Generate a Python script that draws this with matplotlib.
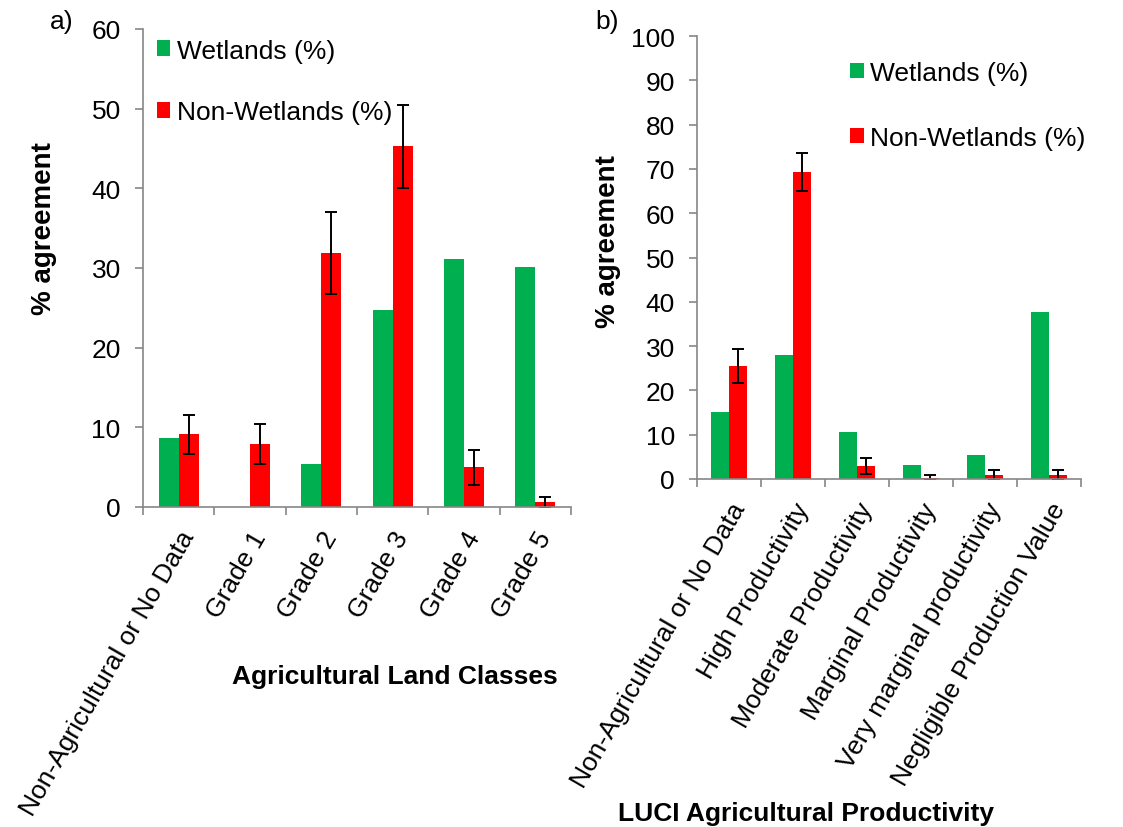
import numpy as np
import matplotlib
matplotlib.use('Agg')
import matplotlib.pyplot as plt

plt.rcParams['font.family'] = ['Liberation Sans', 'DejaVu Sans']

# a) Agricultural Land Classes
alc_classes = ['Non-Agricultural or No Data', 'Grade 1', 'Grade 2', 'Grade 3', 'Grade 4', 'Grade 5']
alc_wet = [8.6, 0.0, 5.35, 24.7, 31.1, 30.1]
alc_nonwet = [9.1, 7.95, 31.9, 45.3, 5.0, 0.6]
alc_nonwet_err = [2.4, 2.5, 5.15, 5.2, 2.2, 0.7]

# b) LUCI Agricultural Productivity
luci_classes = ['Non-Agricultural or No Data', 'High Productivity', 'Moderate Productivity',
                'Marginal Productivity', 'Very marginal productivity', 'Negligible Production Value']
luci_wet = [15.05, 27.9, 10.7, 3.15, 5.4, 37.6]
luci_nonwet = [25.5, 69.3, 2.9, 0.3, 0.9, 0.9]
luci_nonwet_err = [3.9, 4.35, 1.85, 0.6, 1.05, 1.2]

green = '#00B050'
red = '#FF0000'
grey = '#868686'
fs = 19


def panel(ax, cats, wet, nonwet, err, ymax, ystep):
    x = np.arange(len(cats))
    w = 0.28
    ax.bar(x - w / 2, wet, w, color=green, label='Wetlands (%)')
    ax.bar(x + w / 2, nonwet, w, color=red, label='Non-Wetlands (%)')
    ax.errorbar(x + w / 2, nonwet, yerr=err, fmt='none', ecolor='black',
                elinewidth=1.4, capsize=4, capthick=1.4)
    ax.set_xlim(-0.5, len(cats) - 0.5)
    ax.set_ylim(0, ymax)
    ax.set_yticks(np.arange(0, ymax + 1, ystep))
    ax.set_xticks(x)
    ax.set_xticklabels(cats, rotation=60, ha='right', rotation_mode='anchor', fontsize=fs)
    ax.set_xticks(np.arange(-0.5, len(cats), 1), minor=True)
    ax.tick_params(axis='x', which='major', length=0, pad=14)
    ax.tick_params(axis='x', which='minor', length=6, color=grey, width=1.2)
    ax.tick_params(axis='y', length=6, color=grey, width=1.2, labelsize=fs, pad=10)
    for s in ['top', 'right']:
        ax.spines[s].set_visible(False)
    for s in ['left', 'bottom']:
        ax.spines[s].set_color(grey)
        ax.spines[s].set_linewidth(1.2)


fig = plt.figure(figsize=(11.23, 8.28), dpi=100)
ax1 = fig.add_axes([0.1273, 0.3865, 0.381, 0.5773])
ax2 = fig.add_axes([0.6207, 0.4203, 0.342, 0.535])

panel(ax1, alc_classes, alc_wet, alc_nonwet, alc_nonwet_err, 60, 10)
panel(ax2, luci_classes, luci_wet, luci_nonwet, luci_nonwet_err, 100, 10)

ax1.legend(loc='upper left', bbox_to_anchor=(0.007, 1.002), frameon=False, fontsize=fs,
           handlelength=0.53, handleheight=0.53, handletextpad=0.25, labelspacing=1.43,
           borderaxespad=0)
ax2.legend(loc='upper left', bbox_to_anchor=(0.37, 0.968), frameon=False, fontsize=fs,
           handlelength=0.53, handleheight=0.53, handletextpad=0.25, labelspacing=1.56,
           borderaxespad=0)

fig.text(44 / 1123, 1 - 229 / 828, '% agreement', fontsize=20, fontweight='bold',
         rotation=90, ha='center', va='center')
fig.text(608 / 1123, 1 - 242 / 828, '% agreement', fontsize=20, fontweight='bold',
         rotation=90, ha='center', va='center')
fig.text(62 / 1123, 1 - 22 / 828, 'a)', fontsize=fs, ha='center', va='center')
fig.text(607 / 1123, 1 - 22 / 828, 'b)', fontsize=fs, ha='center', va='center')
fig.text(395 / 1123, 1 - 677 / 828, 'Agricultural Land Classes', fontsize=fs, fontweight='bold',
         ha='center', va='center')
fig.text(806 / 1123, 1 - 814 / 828, 'LUCI Agricultural Productivity', fontsize=fs,
         fontweight='bold', ha='center', va='center')

fig.savefig('out.png', dpi=100)
